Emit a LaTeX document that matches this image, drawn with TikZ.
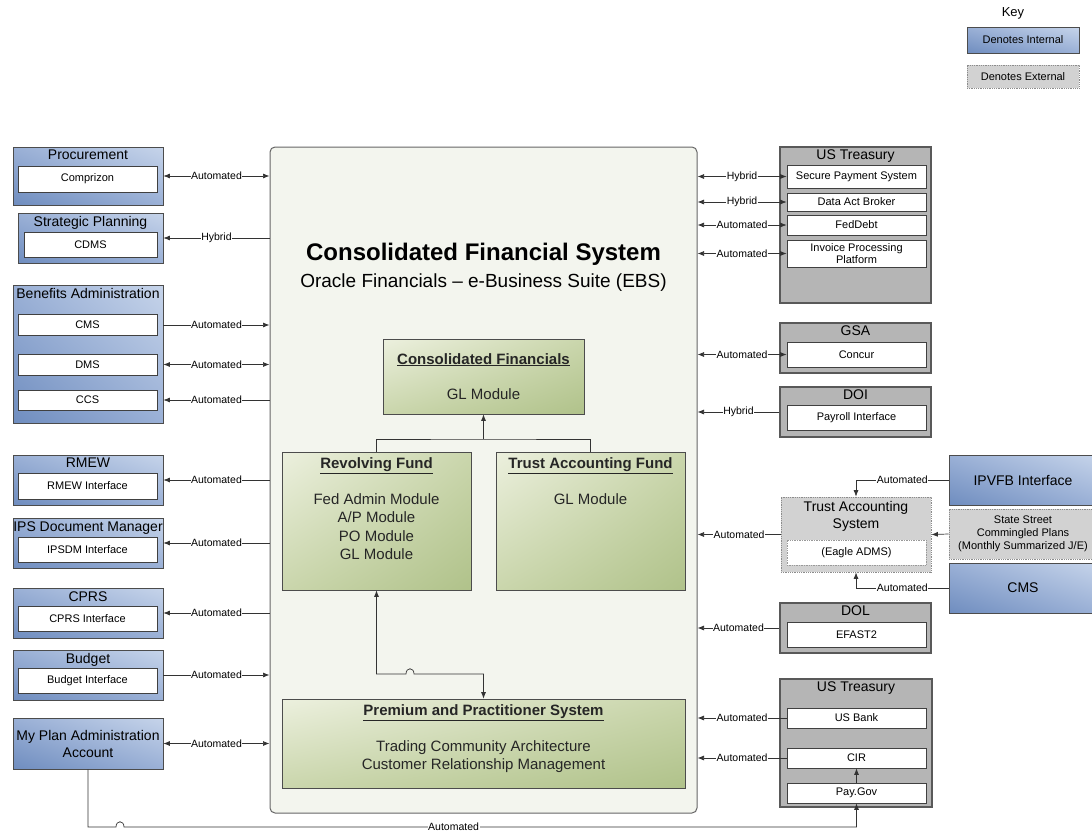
\documentclass[tikz,border=0pt]{standalone}
\usepackage{fontspec}
\setmainfont{Liberation Sans}
\usetikzlibrary{arrows.meta}
\usetikzlibrary{calc}
\usetikzlibrary{shadings}

\definecolor{bluedk}{HTML}{6F8DBF}
\definecolor{bluemd}{HTML}{9AB0D6}
\definecolor{bluelt}{HTML}{C6D4EA}
\definecolor{grndk}{HTML}{B0C28A}
\definecolor{grnmd}{HTML}{CAD6AC}
\definecolor{grnlt}{HTML}{ECF0DE}
\definecolor{extgray}{HTML}{B5B5B5}
\definecolor{dotgray}{HTML}{D2D2D2}
\definecolor{cfsfill}{HTML}{F3F5EE}

\tikzset{
  link/.style={draw=black!80, line width=0.7pt},
  lbl/.style={fill=white, inner sep=0.5pt, font=\fontsize{10.5}{12}\selectfont},
  intbox/.style={draw=black!70, line width=0.8pt, minimum width=150pt, minimum height=50pt,
    lower left=bluedk, upper left=bluemd, upper right=bluelt, lower right=bluemd},
  extbox/.style={draw=black!65, line width=1.1pt, fill=extgray, minimum width=151pt, minimum height=50pt},
  dotbox/.style={draw=black!45, densely dotted, line width=0.8pt, fill=dotgray},
  inbox/.style={draw=black!75, line width=0.7pt, fill=white, minimum width=139pt, minimum height=25pt,
    inner sep=1pt, align=center, font=\fontsize{11}{12}\selectfont},
  ttl/.style={anchor=north, inner sep=3.5pt, align=center, font=\fontsize{14}{17}\selectfont},
  gbox/.style={draw=black!70, line width=0.8pt,
    lower left=grnmd, upper left=grnlt, upper right=grnmd, lower right=grndk},
  gtxt/.style={anchor=north, inner sep=3pt, align=center, text=black!85, font=\fontsize{15}{18.5}\selectfont},
}
\newcommand{\gtitle}[1]{\underline{\textbf{#1}}}

\begin{document}
\begin{tikzpicture}[x=1pt, y=-1pt, >={Latex[length=6.5pt,width=5pt]}]
\useasboundingbox (0,0) rectangle (1092,833);

% key
\node[font=\fontsize{13}{15}\selectfont] (keyT) at (1013,13) {Key};
\node[intbox, minimum width=112pt, minimum height=26pt, font=\fontsize{11}{13}\selectfont] (keyint) at (1023,40) {Denotes Internal};
\node[dotbox, minimum width=112pt, minimum height=23pt, font=\fontsize{11}{13}\selectfont] (keyext) at (1023,76.5) {Denotes External};

% consolidated financial system
\node[draw=black!60, line width=1pt, fill=cfsfill, rounded corners=5pt, minimum width=427pt, minimum height=666pt] (cfs) at (483.5,480) {};
\node[font=\fontsize{24}{28}\selectfont\bfseries] (cfsT) at (483.5,254) {Consolidated Financial System};
\node[font=\fontsize{19}{22}\selectfont] (cfsS) at (483.5,283) {Oracle Financials -- e-Business Suite (EBS)};

\node[gbox, minimum width=201pt, minimum height=75pt] (cf) at (483.5,376.5) {};
\node[gtxt, anchor=center] (cfT) at (cf.center) {\gtitle{Consolidated Financials}\\[17pt]GL Module};
\node[gbox, minimum width=189pt, minimum height=138pt] (rev) at (376.5,521) {};
\node[gtxt] (revT) at ([yshift=-3pt]rev.north) {\gtitle{Revolving Fund}\\[17pt]Fed Admin Module\\A/P Module\\PO Module\\GL Module};
\node[gbox, minimum width=189pt, minimum height=138pt] (taf) at (590.5,521) {};
\node[gtxt] (tafT) at ([yshift=-3pt]taf.north) {\gtitle{Trust Accounting Fund}\\[17pt]GL Module};
\node[gbox, minimum width=403pt, minimum height=89pt] (pps) at (483.5,743.5) {};
\node[gtxt] (ppsT) at ([yshift=-3pt]pps.north) {\gtitle{Premium and Practitioner System}\\[17pt]Trading Community Architecture\\Customer Relationship Management};

\coordinate (jn) at (483.5,439);
\draw[link] (rev.north) |- (jn) -| (taf.north);
\draw[link,->] (jn) -- (cf.south);
\draw[link,<->] (rev.south) |- (406,674) .. controls (406,667) and (414,667) .. (414,674) -| (pps.north);

% left side
\node[intbox, minimum height=58pt, label={[ttl,name=procT]north:Procurement}] (proc) at (88,176) {};
\node[inbox, minimum height=26pt] (comprizon) at (87.5,179) {Comprizon};
\node[intbox, minimum width=145pt, label={[ttl,name=stratT]north:Strategic Planning}] (strat) at (90.5,238) {};
\node[inbox, minimum width=133pt] (cdms) at (90.5,244.5) {CDMS};
\node[intbox, minimum height=138pt, label={[ttl,name=benT]north:Benefits Administration}] (ben) at (88,354) {};
\node[inbox, minimum height=21pt] (benCMS) at (87.5,325) {CMS};
\node[inbox, minimum height=21pt] (benDMS) at (87.5,364.5) {DMS};
\node[inbox, minimum height=20pt] (benCCS) at (87.5,400) {CCS};
\node[intbox, label={[ttl,name=rmewT]north:RMEW}] (rmew) at (88,480) {};
\node[inbox, minimum height=26pt] (rmewI) at (87.5,486) {RMEW Interface};
\node[intbox, label={[ttl,name=ipsT]north:IPS Document Manager}] (ips) at (88,543) {};
\node[inbox] (ipsI) at (87.5,549.5) {IPSDM Interface};
\node[intbox, label={[ttl,name=cprsT]north:CPRS}] (cprs) at (88,613) {};
\node[inbox] (cprsI) at (87.5,618.5) {CPRS Interface};
\node[intbox, label={[ttl,name=budT]north:Budget}] (bud) at (88,675) {};
\node[inbox] (budI) at (87.5,681) {Budget Interface};
\node[intbox, minimum height=51pt, align=center, font=\fontsize{14}{17}\selectfont] (myplan) at (88,743.5) {My Plan Administration\\Account};

\draw[link,<->] (proc.east) -- node[lbl]{Automated} (proc.east -| cfs.west);
\draw[link,->] (strat.east -| cfs.west) -- node[lbl]{Hybrid} (strat.east);
\draw[link,->] (benCMS.east -| ben.east) -- node[lbl]{Automated} (benCMS.east -| cfs.west);
\draw[link,<->] (benDMS.east -| ben.east) -- node[lbl]{Automated} (benDMS.east -| cfs.west);
\draw[link,<-] (benCCS.east -| ben.east) -- node[lbl]{Automated} (benCCS.east -| cfs.west);
\draw[link,<-] (rmew.east) -- node[lbl]{Automated} (rmew.east -| cfs.west);
\draw[link,<-] (ips.east) -- node[lbl]{Automated} (ips.east -| cfs.west);
\draw[link,<-] (cprs.east) -- node[lbl]{Automated} (cprs.east -| cfs.west);
\draw[link,->] (bud.east) -- node[lbl]{Automated} (bud.east -| cfs.west);
\draw[link,<->] (myplan.east) -- node[lbl]{Automated} (myplan.east -| cfs.west);

% right side
\node[extbox, minimum height=156pt, label={[ttl,name=ust1T]north:US Treasury}] (ust1) at (855.5,225) {};
\node[inbox, minimum height=23pt] (sps) at (856.5,176.5) {Secure Payment System};
\node[inbox, minimum height=18pt] (dab) at (856.5,202) {Data Act Broker};
\node[inbox, minimum height=20pt] (fed) at (856.5,225) {FedDebt};
\node[inbox, minimum height=27pt] (ipp) at (856.5,253.5) {Invoice Processing\\Platform};
\node[extbox, label={[ttl,name=gsaT]north:GSA}] (gsa) at (855.5,348) {};
\node[inbox] (concur) at (856.5,354.5) {Concur};
\node[extbox, label={[ttl,name=doiT]north:DOI}] (doi) at (855.5,412) {};
\node[inbox] (payroll) at (856.5,417.5) {Payroll Interface};

\node[dotbox, minimum width=150pt, minimum height=75pt] (tas) at (856,534.5) {};
\node[ttl] (tasT) at ([yshift=-1pt]tas.north) {Trust Accounting\\System};
\node[inbox, draw=black!40, densely dotted] (eagle) at (856.5,552.5) {(Eagle ADMS)};
\node[intbox, minimum width=148pt, font=\fontsize{14}{17}\selectfont] (ipvfb) at (1023,480) {IPVFB Interface};
\node[dotbox, minimum width=148pt, minimum height=50pt, align=center, font=\fontsize{11}{13}\selectfont] (ssc) at (1023,534) {State Street\\Commingled Plans\\(Monthly Summarized J/E)};
\node[intbox, minimum width=148pt, font=\fontsize{14}{17}\selectfont] (cmsR) at (1023,588) {CMS};

\node[extbox, label={[ttl,name=dolT]north:DOL}] (dol) at (855.5,628) {};
\node[inbox] (efast) at (856.5,634.5) {EFAST2};
\node[extbox, minimum width=152pt, minimum height=128pt, label={[ttl,name=ust2T]north:US Treasury}] (ust2) at (856,743) {};
\node[inbox, minimum height=20pt] (usbank) at (856.5,718) {US Bank};
\node[inbox, minimum height=20pt] (cir) at (856.5,758) {CIR};
\node[inbox, minimum height=20pt] (paygov) at (856.5,793) {Pay.Gov};

\draw[link,<->] (sps.west -| cfs.east) -- node[lbl]{Hybrid} (sps.west);
\draw[link,<->] (dab.west -| cfs.east) -- node[lbl]{Hybrid} (dab.west);
\draw[link,<->] (fed.west -| cfs.east) -- node[lbl]{Automated} (fed.west);
\draw[link,<->] (ipp.west -| cfs.east) -- node[lbl]{Automated} (ipp.west);
\draw[link,<->] (concur.west -| cfs.east) -- node[lbl]{Automated} (concur.west);
\draw[link,->] (doi.west) -- node[lbl]{Hybrid} (doi.west -| cfs.east);
\draw[link,->] (tas.west) -- node[lbl]{Automated} (tas.west -| cfs.east);
\draw[link,->] (ipvfb.west) -- node[lbl]{Automated} (ipvfb.west -| tas.north) -- (tas.north);
\draw[link,->] (ssc.west) -- (tas.east);
\draw[link,->] (cmsR.west) -- node[lbl]{Automated} (cmsR.west -| tas.south) -- (tas.south);
\draw[link,->] (dol.west) -- node[lbl]{Automated} (dol.west -| cfs.east);
\draw[link,->] (usbank.west) -- node[lbl]{Automated} (usbank.west -| cfs.east);
\draw[link,->] (cir.west) -- node[lbl]{Automated} (cir.west -| cfs.east);
\draw[link,->] (paygov.north) -- (cir.south);

% bottom loop
\draw[link,->] (myplan.south) |- (116,827) .. controls (116,820) and (124,820) .. (124,827)
  -- node[lbl,pos=0.45]{Automated} (paygov.south |- 124,827) -- (paygov.south);
\end{tikzpicture}
\end{document}
